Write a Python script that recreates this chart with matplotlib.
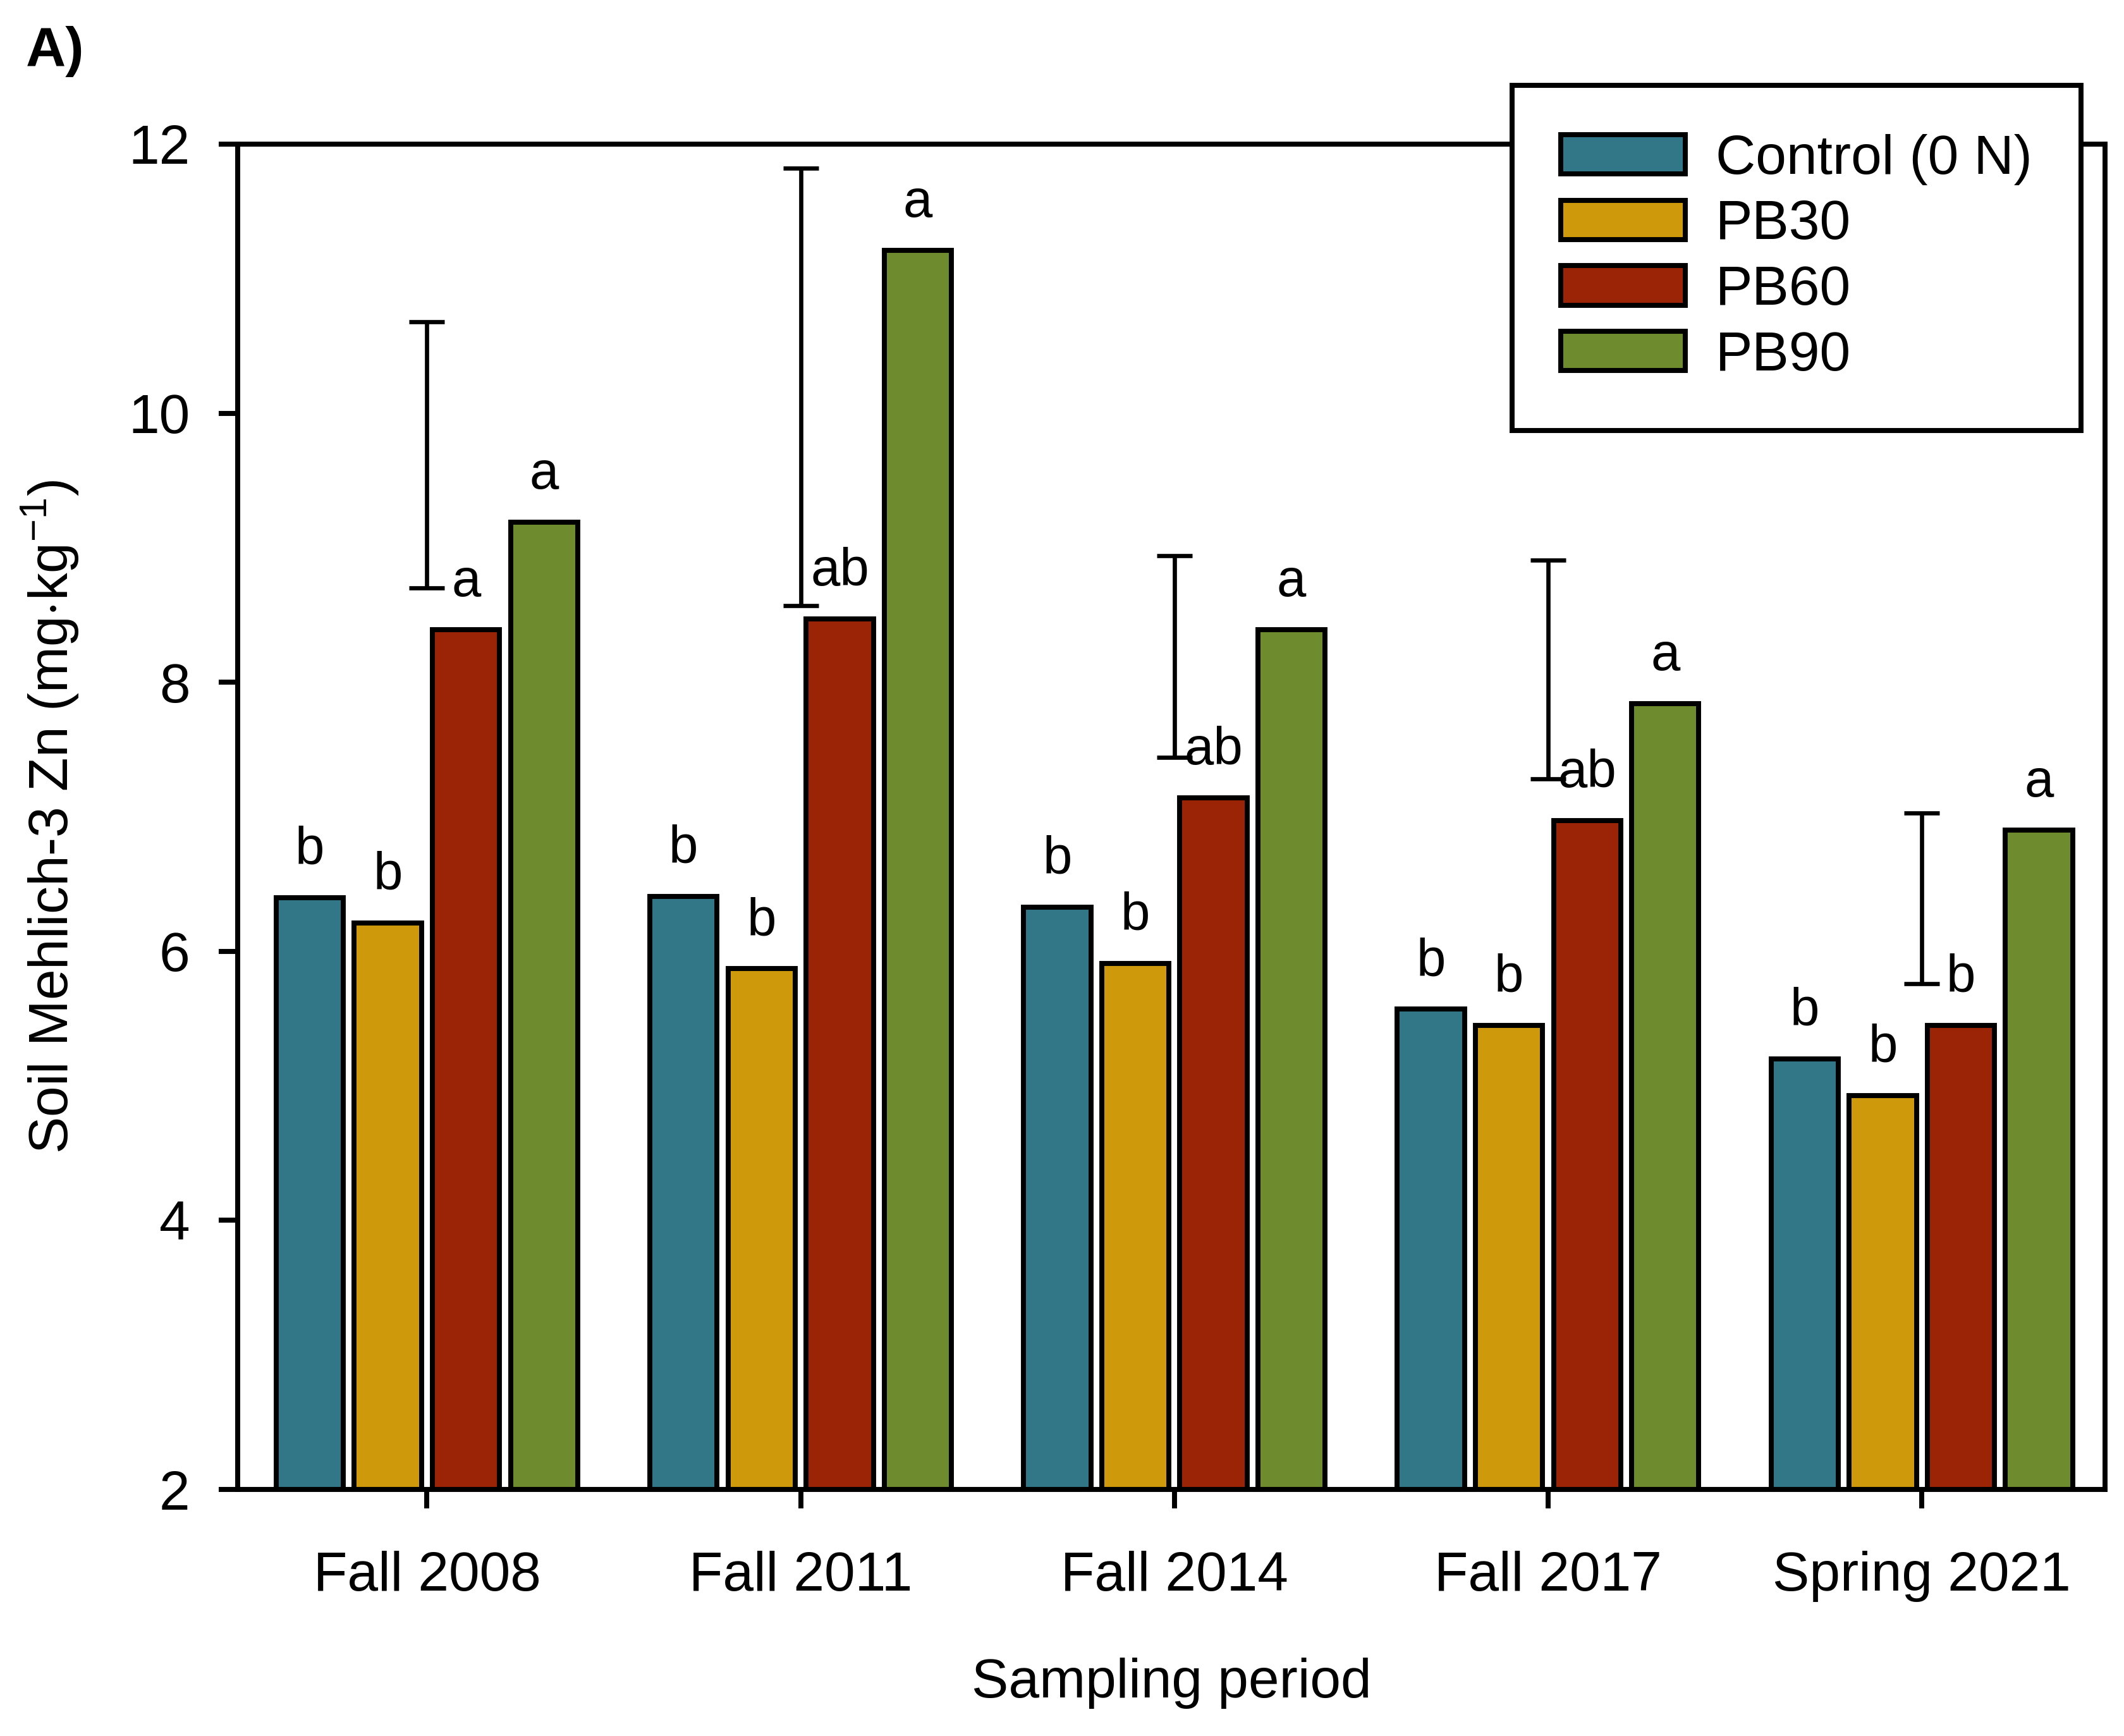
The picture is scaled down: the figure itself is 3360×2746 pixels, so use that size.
import numpy as np
import matplotlib
matplotlib.use("Agg")
import matplotlib.pyplot as plt

plt.rcParams['font.family'] = ['Liberation Sans', 'DejaVu Sans']
plt.rcParams['mathtext.fontset'] = 'custom'
plt.rcParams['mathtext.rm'] = 'Liberation Sans'
plt.rcParams['mathtext.it'] = 'Liberation Sans:italic'

# data
periods = ['Fall 2008', 'Fall 2011', 'Fall 2014', 'Fall 2017', 'Spring 2021']
treatments = ['Control (0 N)', 'PB30', 'PB60', 'PB90']
control = [6.40, 6.41, 6.33, 5.57, 5.20]
pb30 = [6.21, 5.87, 5.91, 5.45, 4.93]
pb60 = [8.39, 8.47, 7.14, 6.97, 5.45]
pb90 = [9.19, 11.21, 8.39, 7.84, 6.90]
letters = [['b', 'b', 'b', 'b', 'b'],
           ['b', 'b', 'b', 'b', 'b'],
           ['a', 'ab', 'ab', 'ab', 'b'],
           ['a', 'a', 'a', 'a', 'a']]
lsd_low = [8.70, 8.57, 7.44, 7.28, 5.76]
lsd_high = [10.68, 11.82, 8.94, 8.91, 7.03]

colors = ['#317787', '#CE990A', '#9C2406', '#6E8B2E']
series = [control, pb30, pb60, pb90]

fs = 21
lw = 1.9

fig = plt.figure(figsize=(11.2, 2746 / 300), dpi=300)
ax = fig.add_axes([0.112, 0.142, 0.879, 0.775])

x = np.arange(len(periods))
step = 0.209
width = 0.18
for i, (vals, c, lab) in enumerate(zip(series, colors, treatments)):
    xpos = x + (i - 1.5) * step
    ax.bar(xpos, vals, width=width, bottom=0, color=c, edgecolor='black',
           linewidth=lw, label=lab, zorder=2)
    for xp, v, t in zip(xpos, vals, letters[i]):
        ax.text(xp, v + 0.17, t, ha='center', va='bottom', fontsize=20)

lsd_mid = (np.array(lsd_low) + np.array(lsd_high)) / 2
lsd_half = (np.array(lsd_high) - np.array(lsd_low)) / 2
ax.errorbar(x, lsd_mid, yerr=lsd_half, fmt='none', ecolor='black',
            elinewidth=1.6, capsize=6.7, capthick=1.6, zorder=3)

ax.set_ylim(2, 12)
ax.set_xlim(-0.506, 4.49)
ax.set_yticks([2, 4, 6, 8, 10, 12])
ax.set_xticks(x)
ax.set_xticklabels(periods)
ax.tick_params(axis='both', direction='out', length=7.2, width=lw, labelsize=fs)
ax.tick_params(axis='x', pad=16)
ax.tick_params(axis='y', pad=11)
for sp in ax.spines.values():
    sp.set_linewidth(lw)

ax.set_xlabel('Sampling period', fontsize=fs)
ax.xaxis.set_label_coords(0.5, -0.125)
ax.set_ylabel(r'Soil Mehlich-3 Zn (mg$\cdot$kg$^{-1}$)', fontsize=fs)
ax.yaxis.set_label_coords(-0.084, 0.5)

leg = ax.legend(loc='upper left', bbox_to_anchor=(0.712, 0.951),
                bbox_transform=fig.transFigure, fontsize=fs, frameon=True,
                fancybox=False, framealpha=1, edgecolor='black',
                handlelength=2.25, handleheight=0.72, handletextpad=0.55,
                labelspacing=0.26, borderpad=0.88, borderaxespad=0)
leg.get_frame().set_linewidth(lw)
leg.set_zorder(5)

fig.text(0.012, 0.985, 'A)', fontsize=fs, fontweight='bold', va='top', ha='left')

fig.savefig('out.png', dpi=300)
